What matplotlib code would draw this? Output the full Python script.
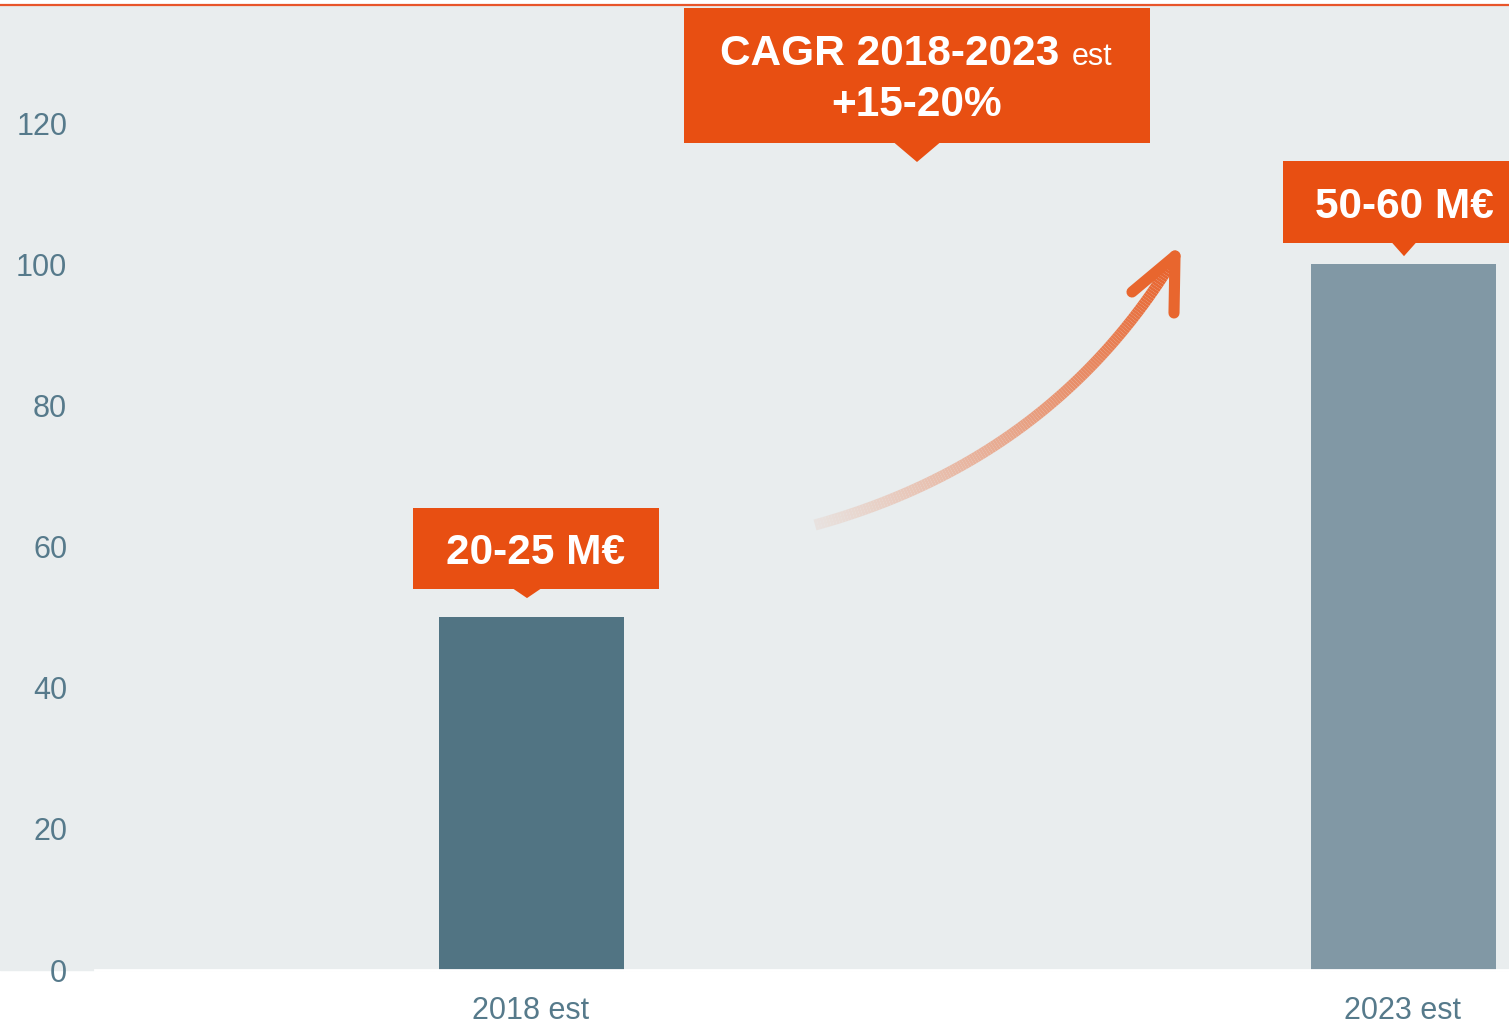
import matplotlib
matplotlib.use("Agg")
import matplotlib.pyplot as plt
import numpy as np
from matplotlib.collections import LineCollection
from matplotlib.lines import Line2D
from matplotlib.patches import Polygon, Rectangle

categories = ["2018 est", "2023 est"]
values = [50, 100]
callouts = ["20-25 M€", "50-60 M€"]
bar_colors = ["#517483", "#8198A5"]
cagr_title = "CAGR 2018-2023"
cagr_suffix = "est"
cagr_value = "+15-20%"

BG = "#E9EDEE"
ORANGE = "#E84F12"
TXT = "#567A8B"
W, H = 1509, 1025

plt.rcParams["font.family"] = ["Liberation Sans", "DejaVu Sans"]

fig = plt.figure(figsize=(W / 100, H / 100), dpi=100)
fig.patch.set_facecolor("white")
fig.patches.append(Rectangle((0, 55 / H), 1, 964 / H, transform=fig.transFigure,
                             color=BG, zorder=-5))
fig.add_artist(Line2D([0, 1], [1 - 4.5 / H] * 2, transform=fig.transFigure,
                      color="#E8552A", lw=1.6))

ax = fig.add_axes([95 / W, 55 / H, (W - 95) / W, 964 / H])
ax.set_facecolor(BG)

# pixel -> data scale for the fixed layout
PX_X = 872.0     # pixels per category step
PX_Y = 847 / 120  # pixels per unit
ax.set_xlim(-0.5, -0.5 + (W - 95) / PX_X)
ax.set_ylim(0, 964 / PX_Y)

x = np.arange(len(categories))
ax.bar(x, values, width=185 / PX_X, color=bar_colors, zorder=2)

ax.set_xticks(x)
ax.set_xticklabels(categories)
ax.set_yticks(range(0, 121, 20))
ax.tick_params(axis="both", length=0, labelsize=22, labelcolor=TXT)
ax.tick_params(axis="y", pad=20)
ax.tick_params(axis="x", pad=19)
for s in ["top", "right", "left"]:
    ax.spines[s].set_visible(False)
ax.spines["bottom"].set_color("white")
ax.spines["bottom"].set_linewidth(2)


def dx(p):
    return p / PX_X


def dy(p):
    return p / PX_Y


def callout(xc, ybot, w, h, text, tip_x, tip_half, tip_depth, size=30.5):
    ax.add_patch(Rectangle((xc - dx(w / 2), ybot), dx(w), dy(h), color=ORANGE,
                           clip_on=False, zorder=4, lw=0))
    ax.add_patch(Polygon([(tip_x - dx(tip_half), ybot + dy(0.5)),
                          (tip_x + dx(tip_half), ybot + dy(0.5)),
                          (tip_x, ybot - dy(tip_depth))],
                         color=ORANGE, clip_on=False, zorder=4, lw=0))
    if text:
        ax.text(xc, ybot + dy(25.5), text, ha="center", va="baseline",
                fontsize=size, fontweight="bold", color="white", zorder=5)


# value callouts above bars
callout(x[0] + dx(5), values[0] + dy(28), 246, 81, callouts[0], x[0] - dx(4), 14, 9)
callout(x[1] + dx(1), values[1] + dy(21), 242, 82, callouts[1], x[1] + dx(1), 12, 13)

# CAGR callout
cx = (917 - 531) / PX_X
cbot = (970 - 143) / PX_Y
callout(cx, cbot, 466, 135, None, cx, 23, 19)
ax.text(cx - dx(197), cbot + dy(143 - 65), cagr_title, ha="left", va="baseline",
        fontsize=30.5, fontweight="bold", color="white", zorder=5)
ax.text(cx + dx(155), cbot + dy(143 - 65), cagr_suffix, ha="left", va="baseline",
        fontsize=22, color="white", zorder=5)
ax.text(cx, cbot + dy(143 - 116), cagr_value, ha="center", va="baseline",
        fontsize=30.5, fontweight="bold", color="white", zorder=5)

# gradient growth arrow (quadratic bezier), colour fades into the background
p0 = np.array([(815 - 531) / PX_X, (970 - 525) / PX_Y])
c = np.array([(1050 - 531) / PX_X, (970 - 460) / PX_Y])
p2 = np.array([(1172 - 531) / PX_X, (970 - 262) / PX_Y])
t = np.linspace(0, 1, 160)[:, None]
pts = (1 - t) ** 2 * p0 + 2 * (1 - t) * t * c + t ** 2 * p2
segs = np.stack([pts[:-1], pts[1:]], axis=1)
c_end = np.array(matplotlib.colors.to_rgb("#E8632C"))
c_start = np.array(matplotlib.colors.to_rgb("#E8E2DF"))
f = np.linspace(0, 1, len(segs))[:, None]
cols = c_start * (1 - f) + c_end * f
ax.add_collection(LineCollection(segs, colors=cols, linewidths=8,
                                 capstyle="butt", joinstyle="round", zorder=3))
tip = np.array([(1175 - 531) / PX_X, (970 - 256) / PX_Y])
for wx, wy in [(1132, 292), (1174, 313)]:
    w = np.array([(wx - 531) / PX_X, (970 - wy) / PX_Y])
    ax.plot([tip[0], w[0]], [tip[1], w[1]], color="#E8662E", lw=8,
            solid_capstyle="round", zorder=3)

fig.savefig("out.png", dpi=100)
